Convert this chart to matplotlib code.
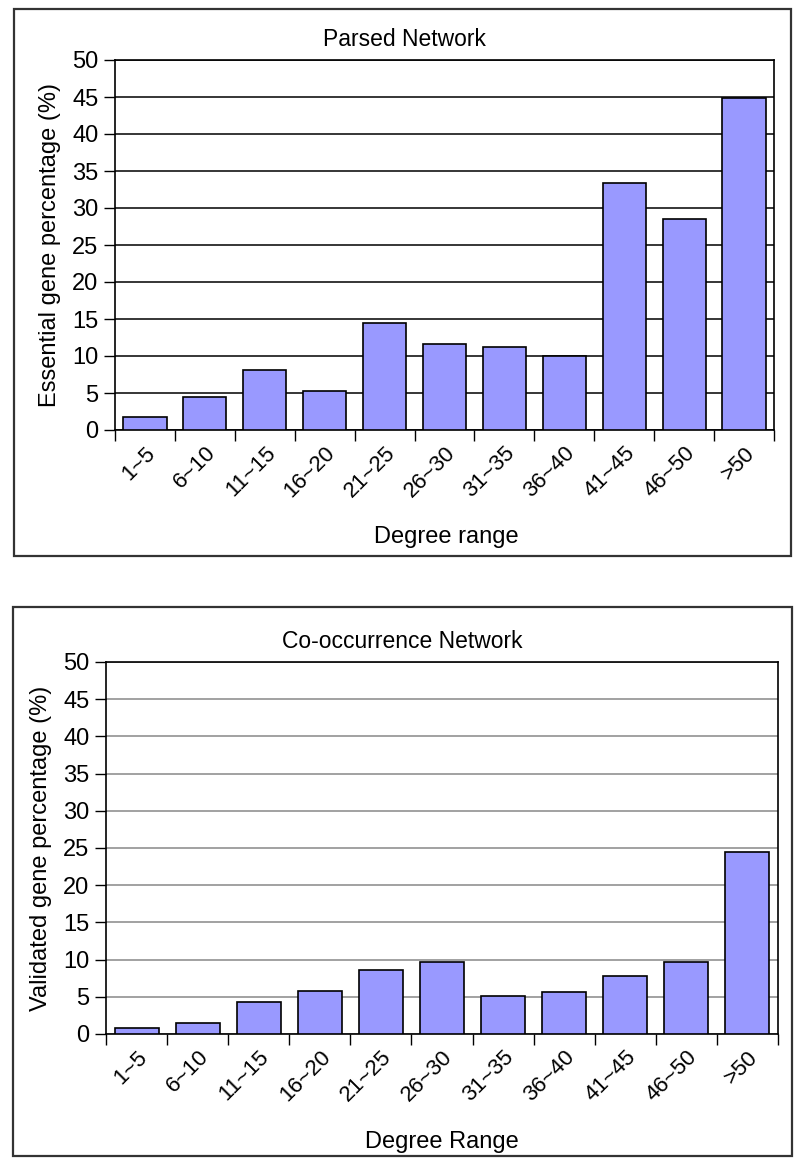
import matplotlib.pyplot as plt
from matplotlib.patches import Rectangle
from matplotlib.ticker import FixedLocator

plt.rcParams['font.family'] = ['Liberation Sans', 'DejaVu Sans']

degree_ranges = ["1~5", "6~10", "11~15", "16~20", "21~25", "26~30",
                 "31~35", "36~40", "41~45", "46~50", ">50"]
parsed_pct = [1.7, 4.4, 8.1, 5.3, 14.4, 11.6, 11.2, 10.0, 33.4, 28.5, 44.9]
cooc_pct = [0.85, 1.45, 4.35, 5.8, 8.6, 9.7, 5.15, 5.65, 7.75, 9.7, 24.4]
yticks = [0, 5, 10, 15, 20, 25, 30, 35, 40, 45, 50]

W, H = 800, 1164
fig = plt.figure(figsize=(W / 100, H / 100), dpi=100)


def fx(px):
    return px / W


def fy(py):
    return 1 - py / H


def panel(left, top, right, bottom, values, grid_color, ylabel):
    ax = fig.add_axes([fx(left), fy(bottom), fx(right - left), fy(top) - fy(bottom)])
    x = range(len(values))
    ax.bar(x, values, width=0.72, color="#9999ff", edgecolor="black", linewidth=1.2, zorder=3)
    ax.set_xlim(-0.5, len(values) - 0.5)
    ax.set_ylim(0, 50)
    ax.set_yticks(yticks)
    ax.yaxis.grid(True, color=grid_color, linewidth=1.1, zorder=0)
    ax.set_axisbelow(True)
    ax.tick_params(axis="y", length=8, width=1, labelsize=17, pad=4, direction="out")
    ax.set_xticks(list(x))
    ax.set_xticklabels(degree_ranges, rotation=45, ha="right", va="top",
                       rotation_mode="anchor", fontsize=16)
    ax.tick_params(axis="x", length=0, pad=9)
    ax.xaxis.set_minor_locator(FixedLocator([i - 0.5 for i in range(len(values) + 1)]))
    ax.tick_params(axis="x", which="minor", length=8, width=1, direction="out")
    for s in ax.spines.values():
        s.set_linewidth(1.2)
        s.set_color("black")
    ax.set_ylabel(ylabel, fontsize=17, labelpad=8)
    return ax


# top panel
fig.add_artist(Rectangle((fx(14), fy(556)), fx(791 - 14), fy(9) - fy(556),
                         transform=fig.transFigure, fill=False,
                         edgecolor="#333333", linewidth=1.6))
panel(115, 60, 774, 430, parsed_pct, "black", "Essential gene percentage (%)")
fig.text(fx(404), fy(40), "Parsed Network", ha="center", va="center", fontsize=16.5)
fig.text(fx(446), fy(537), "Degree range", ha="center", va="center", fontsize=17)

# bottom panel
fig.add_artist(Rectangle((fx(13), fy(1156)), fx(792 - 13), fy(607) - fy(1156),
                         transform=fig.transFigure, fill=False,
                         edgecolor="#333333", linewidth=1.6))
panel(106, 662, 778, 1034, cooc_pct, "#888888", "Validated gene percentage (%)")
fig.text(fx(402), fy(641), "Co-occurrence Network", ha="center", va="center", fontsize=16.5)
fig.text(fx(442), fy(1142), "Degree Range", ha="center", va="center", fontsize=17)

fig.savefig("out.png", dpi=100)
